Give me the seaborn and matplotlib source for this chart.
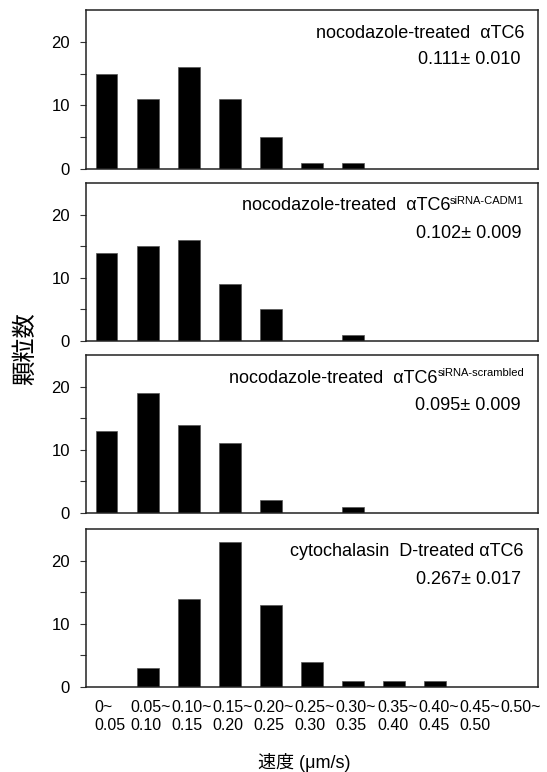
import matplotlib
matplotlib.use("Agg")
import matplotlib.pyplot as plt
import matplotlib.transforms as mtransforms
import seaborn as sns
import numpy as np
import pandas as pd

# ---------------- data ----------------
categories = ["0~\n0.05", "0.05~\n0.10", "0.10~\n0.15", "0.15~\n0.20", "0.20~\n0.25",
              "0.25~\n0.30", "0.30~\n0.35", "0.35~\n0.40", "0.40~\n0.45", "0.45~\n0.50",
              "0.50~"]
counts_noco = [15, 11, 16, 11, 5, 1, 1, 0, 0, 0, 0]
counts_cadm1 = [14, 15, 16, 9, 5, 0, 1, 0, 0, 0, 0]
counts_scr = [13, 19, 14, 11, 2, 0, 1, 0, 0, 0, 0]
counts_cyto = [0, 3, 14, 23, 13, 4, 1, 1, 1, 0, 0]

titles = ["nocodazole-treated  αTC6", "nocodazole-treated  αTC6",
          "nocodazole-treated  αTC6", "cytochalasin  D-treated αTC6"]
superscripts = ["", "siRNA-CADM1", "siRNA-scrambled", ""]
stats = ["0.111± 0.010", "0.102± 0.009", "0.095± 0.009", "0.267± 0.017"]
y_label = "顆粒数"
x_label = "速度 (μm/s)"

series = [counts_noco, counts_cadm1, counts_scr, counts_cyto]

# ---------------- style ----------------
sns.set_theme(style="white")
plt.rcParams["font.family"] = ["Liberation Sans", "Noto Sans CJK JP", "DejaVu Sans"]
plt.rcParams["text.color"] = "black"
plt.rcParams["axes.labelcolor"] = "black"
plt.rcParams["xtick.color"] = "black"
plt.rcParams["ytick.color"] = "black"

W, H = 547, 772
fig = plt.figure(figsize=(W / 100, H / 100), dpi=100)

left_px, right_px = 86, 538
panels_px = [(10, 169), (183, 341), (355, 513), (529, 687)]

axes = []
for i, (top, bot) in enumerate(panels_px):
    ax = fig.add_axes([left_px / W, 1 - bot / H, (right_px - left_px) / W, (bot - top) / H])
    df = pd.DataFrame({"bin": categories, "count": series[i]})
    sns.barplot(data=df, x="bin", y="count", order=categories, color="black",
                width=0.53, edgecolor="#555555", linewidth=0.5, saturation=1, ax=ax)
    ax.set_xlim(-0.5, len(categories) - 0.5)
    ax.set_ylim(0, 25)
    ax.set_yticks([0, 10, 20])
    ax.set_yticks([5, 15], minor=True)
    ax.tick_params(axis="y", which="both", direction="out", length=4.5, width=0.8,
                   color="#333333", left=True, pad=7, labelsize=12)
    ax.set_xlabel("")
    ax.set_ylabel("")
    for s in ax.spines.values():
        s.set_color("#222222")
        s.set_linewidth(1.1)
    if i < 3:
        ax.set_xticks([])
    else:
        ax.tick_params(axis="x", which="both", length=0, pad=9, labelsize=11.5)
        for lab in ax.get_xticklabels():
            lab.set_multialignment("left")
            lab.set_linespacing(1.3)
            lab.set_transform(lab.get_transform() +
                              mtransforms.ScaledTranslation(3 / 100, 0, fig.dpi_scale_trans))
    axes.append(ax)

# annotations
fig.canvas.draw()
renderer = fig.canvas.get_renderer()
for i, ax in enumerate(axes):
    ph = panels_px[i][1] - panels_px[i][0]
    xr = 1 - 14 / (right_px - left_px)
    ytitle = 1 - 23 / ph
    yval = 1 - 50 / ph
    if superscripts[i]:
        sup = ax.text(xr, ytitle, superscripts[i], transform=ax.transAxes,
                      ha="right", va="center", fontsize=8)
        sup.set_transform(ax.transAxes + mtransforms.ScaledTranslation(0, 3.5 / 72, fig.dpi_scale_trans))
        fig.canvas.draw()
        wpx = sup.get_window_extent(renderer).width
        main = ax.text(xr, ytitle, titles[i], ha="right", va="center", fontsize=13)
        main.set_transform(ax.transAxes + mtransforms.ScaledTranslation(-wpx / fig.dpi, 0, fig.dpi_scale_trans))
    else:
        ax.text(xr, ytitle, titles[i], transform=ax.transAxes,
                ha="right", va="center", fontsize=13)
    ax.text(1 - 17 / (right_px - left_px), yval, stats[i], transform=ax.transAxes,
            ha="right", va="center", fontsize=13)

fig.text(304 / W, 1 - 762 / H, x_label, ha="center", va="center", fontsize=13)
fig.text(26 / W, 1 - 349 / H, y_label, ha="center", va="center", rotation=90, fontsize=17.5)

fig.savefig("out.png", dpi=100)
